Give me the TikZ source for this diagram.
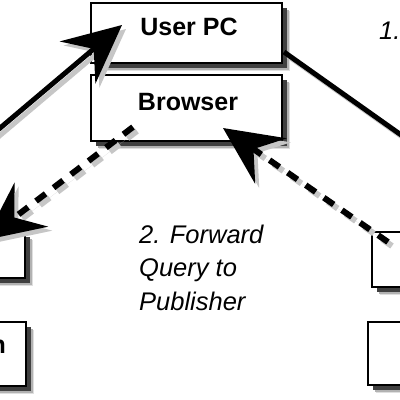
\documentclass[tikz,border=0pt]{standalone}
\usepackage{fontspec}
\setmainfont{Liberation Sans}
\usetikzlibrary{arrows.meta,calc}
\tikzset{
  box/.style={draw=black, line width=1.3pt, fill=white, inner sep=0pt,
    preaction={fill=gray!25, draw=none, transform canvas={shift={(8pt,-8pt)}}},
    preaction={fill=gray!60, draw=none, transform canvas={shift={(6.5pt,-6.5pt)}}},
    preaction={fill=black!75, draw=none, transform canvas={shift={(4.5pt,-4.5pt)}}}},
  lbl/.style={font=\bfseries\fontsize{25}{30}\selectfont, inner sep=0pt},
  note/.style={font=\itshape\fontsize{25.5}{33.5}\selectfont, align=left, inner sep=0pt},
  bigtip/.style={-{Stealth[length=58pt,width=55pt,inset=21pt]}},
  solidconn/.style={line width=5pt},
  dashconn/.style={line width=6pt, dash pattern=on 12pt off 10pt},
  shadowcol/.style={draw=gray!45, fill=gray!45}
}
\begin{document}
\begin{tikzpicture}[x=1pt,y=-1pt]
\useasboundingbox (0,0) rectangle (400,400);
\clip (0,0) rectangle (400,400);
\fill[white] (0,0) rectangle (400,400);

% boxes
\node[box, minimum width=191pt, minimum height=60pt] (userpc) at (186.5,33) {};
\node[box, minimum width=191pt, minimum height=66pt] (browser) at (186.5,108) {};
\node[box, minimum width=125pt, minimum height=46pt] (lefttop) at (-37.5,255) {};
\node[box, minimum width=126pt, minimum height=64pt] (leftbot) at (-37,354) {};
\node[box, minimum width=128pt, minimum height=55pt] (righttop) at (436,259.5) {};
\node[box, minimum width=132pt, minimum height=63pt] (rightbot) at (434,353.5) {};

% box texts
\node[lbl, anchor=base] (userpctxt) at (189,35) {User PC};
\node[lbl, anchor=base] (browsertxt) at (188,110) {Browser};
\node[lbl, anchor=base east] (ntxt) at (6,353) {n};

% notes
\node[note, anchor=base west] (note1) at (379,39) {1.};
\node[note, anchor=north west] (note2) at (139,224.5) {2. Forward\\Query to\\Publisher};

% connector end points
\coordinate (a1s) at (-20,145);
\coordinate (a1e) at (122,25);
\coordinate (a4s) at (284,52);
\coordinate (a4e) at (500,205);
\coordinate (a2s) at (133,127);
\coordinate (a2e) at (-15,240);
\coordinate (a3s) at (388,242);
\coordinate (a3e) at (223,128);

% connector shadows
\begin{scope}[transform canvas={shift={(4pt,-4pt)}}]
  \draw[shadowcol, solidconn, bigtip] (a1s) -- (a1e);
  \draw[shadowcol, solidconn] (a4s) -- (a4e);
  \draw[shadowcol, dashconn, bigtip] (a2s) -- (a2e);
  \draw[shadowcol, dashconn, bigtip] (a3s) -- (a3e);
\end{scope}

% connectors
\draw[solidconn, bigtip] (a1s) -- (a1e);
\draw[solidconn] (a4s) -- (a4e);
\draw[dashconn, bigtip] (a2s) -- (a2e);
\draw[dashconn, bigtip] (a3s) -- (a3e);
\end{tikzpicture}
\end{document}
